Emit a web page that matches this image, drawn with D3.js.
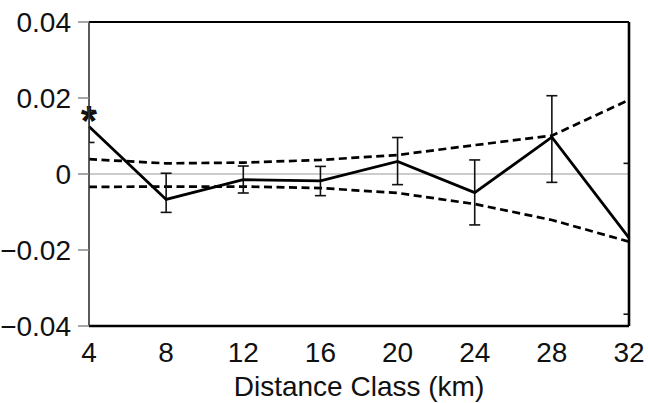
<!DOCTYPE html>
<html>
<head>
<meta charset="utf-8">
<script src="https://cdn.jsdelivr.net/npm/d3@7"></script>
<style>
  body { margin: 0; background: #fff; }
  text { font-family: "Liberation Sans", Arial, sans-serif; fill: #111; }
</style>
</head>
<body>
<div id="chart"></div>
<script>
const distance = [4, 8, 12, 16, 20, 24, 28, 32];
const r = [0.0125, -0.0067, -0.0015, -0.0018, 0.0033, -0.0049, 0.0097, -0.0168];
const ciUpper = [0.0167, 0.0002, 0.0021, 0.0020, 0.0096, 0.0037, 0.0206, 0.0028];
const ciLower = [0.0083, -0.0101, -0.0050, -0.0057, -0.0028, -0.0134, -0.0022, -0.0369];
const envUpper = [0.0039, 0.0028, 0.0030, 0.0037, 0.0050, 0.0076, 0.0101, 0.0195];
const envLower = [-0.0034, -0.0033, -0.0033, -0.0037, -0.0050, -0.0079, -0.0121, -0.0178];
const yTicks = [-0.04, -0.02, 0, 0.02, 0.04];
const yTickLabels = ["\u22120.04", "\u22120.02", "0", "0.02", "0.04"];
const significant = [true, false, false, false, false, false, false, false];

const W = 648, H = 403;
const m = { left: 89, top: 22, right: 19, bottom: 77 };
const iw = W - m.left - m.right, ih = H - m.top - m.bottom;

const svg = d3.select("#chart").append("svg")
    .attr("width", W)
    .attr("height", H);

const x = d3.scaleLinear().domain([4, 32]).range([0, iw]);
const y = d3.scaleLinear().domain([-0.04, 0.04]).range([ih, 0]);

const g = svg.append("g").attr("transform", `translate(${m.left},${m.top})`);

g.append("clipPath").attr("id", "plot-clip")
    .append("rect").attr("width", iw).attr("height", ih);

// zero line
g.append("line")
    .attr("x1", 0).attr("x2", iw)
    .attr("y1", y(0)).attr("y2", y(0))
    .attr("stroke", "#999").attr("stroke-width", 1.2);

const pts = distance.map((d, i) => ({ d, r: r[i], lo: ciLower[i], hi: ciUpper[i], eu: envUpper[i], el: envLower[i], sig: significant[i] }));

// envelopes
const dashed = g.append("g").attr("clip-path", "url(#plot-clip)");
[ "eu", "el" ].forEach(k => {
    dashed.append("path")
        .datum(pts)
        .attr("fill", "none")
        .attr("stroke", "#000")
        .attr("stroke-width", 2.7)
        .attr("stroke-dasharray", "8,4.5")
        .attr("d", d3.line().x(p => x(p.d)).y(p => y(p[k])));
});

// error bars
const eb = g.append("g").attr("clip-path", "url(#plot-clip)")
    .attr("stroke", "#111").attr("stroke-width", 1.6);
eb.selectAll(".whisker").data(pts).enter().append("line")
    .attr("x1", p => x(p.d)).attr("x2", p => x(p.d))
    .attr("y1", p => y(p.lo)).attr("y2", p => y(p.hi));
eb.selectAll(".capHi").data(pts).enter().append("line")
    .attr("x1", p => x(p.d) - 5.5).attr("x2", p => x(p.d) + 5.5)
    .attr("y1", p => y(p.hi)).attr("y2", p => y(p.hi));
eb.selectAll(".capLo").data(pts).enter().append("line")
    .attr("x1", p => x(p.d) - 5.5).attr("x2", p => x(p.d) + 5.5)
    .attr("y1", p => y(p.lo)).attr("y2", p => y(p.lo));

// correlogram line
g.append("path")
    .datum(pts)
    .attr("fill", "none")
    .attr("stroke", "#000")
    .attr("stroke-width", 2.8)
    .attr("stroke-linejoin", "miter")
    .attr("d", d3.line().x(p => x(p.d)).y(p => y(p.r)));

// significance marker
g.selectAll(".sig").data(pts.filter(p => p.sig)).enter().append("text")
    .attr("x", p => x(p.d))
    .attr("y", p => y(p.hi) + 24)
    .attr("text-anchor", "middle")
    .attr("font-size", 42)
    .attr("font-weight", "bold")
    .text("*");

// frame
g.append("line").attr("x1", 0).attr("x2", iw).attr("y1", 0).attr("y2", 0)
    .attr("stroke", "#000").attr("stroke-width", 2);
g.append("line").attr("x1", 0).attr("x2", iw).attr("y1", ih).attr("y2", ih)
    .attr("stroke", "#000").attr("stroke-width", 2.6);
g.append("line").attr("x1", iw).attr("x2", iw).attr("y1", 0).attr("y2", ih)
    .attr("stroke", "#000").attr("stroke-width", 2.6);
g.append("line").attr("x1", 0).attr("x2", 0).attr("y1", 0).attr("y2", ih)
    .attr("stroke", "#333").attr("stroke-width", 1.6);

// y axis ticks and labels
const yAxis = g.append("g");
yAxis.selectAll(".tick").data(yTicks).enter().append("line")
    .attr("x1", -11).attr("x2", 0)
    .attr("y1", d => y(d)).attr("y2", d => y(d))
    .attr("stroke", "#888").attr("stroke-width", 1.5);
yAxis.selectAll(".lab").data(yTicks).enter().append("text")
    .attr("x", -18)
    .attr("y", d => y(d))
    .attr("dy", "0.36em")
    .attr("text-anchor", "end")
    .attr("font-size", 28)
    .text((d, i) => yTickLabels[i]);

// x axis labels
g.selectAll(".xlab").data(distance).enter().append("text")
    .attr("x", d => x(d))
    .attr("y", ih + 36)
    .attr("text-anchor", "middle")
    .attr("font-size", 28)
    .text(d => d);

g.append("text")
    .attr("x", iw / 2)
    .attr("y", ih + 70)
    .attr("text-anchor", "middle")
    .attr("font-size", 28)
    .text("Distance Class (km)");
</script>
</body>
</html>
